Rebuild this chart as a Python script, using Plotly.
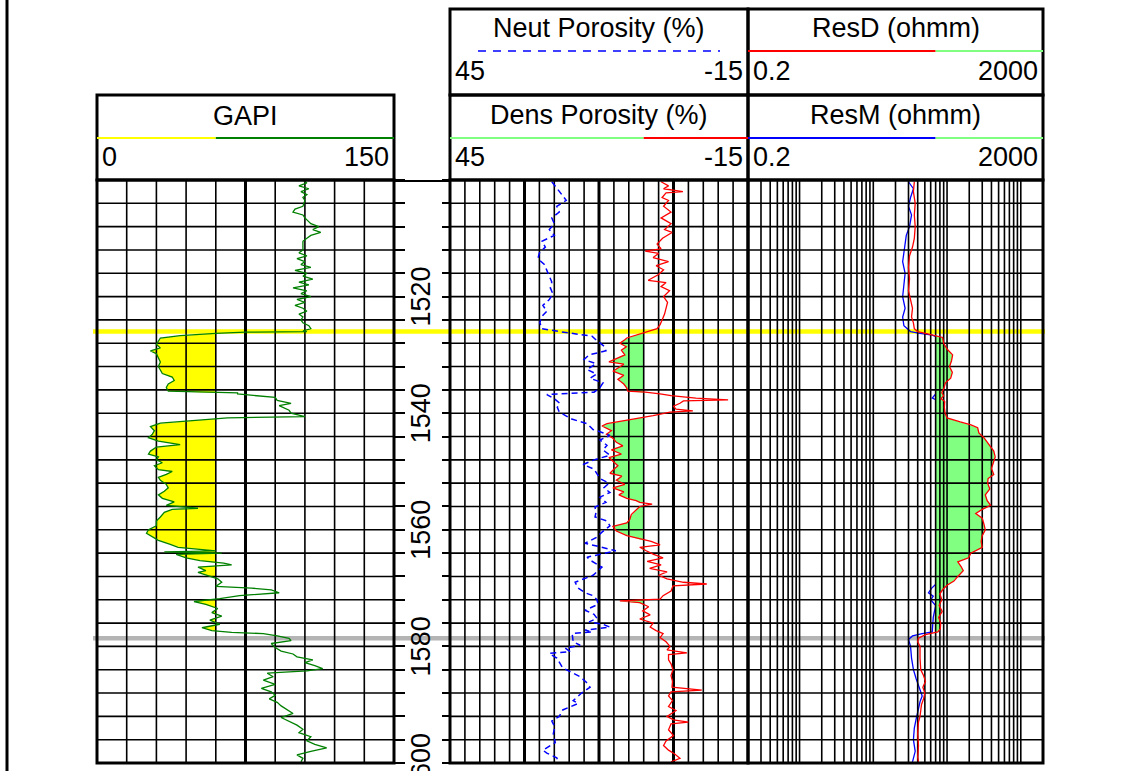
import numpy as np
import plotly.graph_objects as go

W, H = 1131, 771

# ---------------- depth window ----------------
DEPTH_TOP, DEPTH_BASE = 1500, 1600
DEPTH_STEP = 4
depth_labels = [1520, 1540, 1560, 1580, 1600]

# zone boundaries (top marker, base marker)
zone_top = 1526.0
zone_base = 1578.6

# ---------------- track scales ----------------
gr_range = [0, 150]
gr_grid_minor = [15, 30, 45, 60, 90, 105, 120, 135]
gr_grid_major = [75]
por_range = [45, -15]
por_grid_minor = [42, 39, 36, 33, 27, 24, 21, 18, 12, 9, 6, 3, -3, -6, -9, -12]
por_grid_major = [30, 15, 0]
res_range = [0.2, 2000]
res_grid = [m * 10.0 ** e for e in range(-1, 4) for m in range(1, 10)
            if 0.2 < m * 10.0 ** e < 2000]

gr_cutoff = 60
dphi_cutoff = 6
resd_cutoff = 70

# ---------------- curves: (depth, value) ----------------
gr_log = [
    (1500.0, 104), (1500.5, 106), (1501.0, 102), (1501.5, 107), (1502.0, 103), (1502.5, 106),
    (1503.0, 104), (1503.5, 105), (1504.5, 104), (1505.0, 100), (1505.5, 99), (1506.0, 104),
    (1506.5, 105), (1507.5, 108), (1508.0, 112), (1508.5, 109), (1509.0, 113), (1509.5, 108),
    (1510.0, 106), (1510.5, 104), (1511.5, 104), (1512.0, 104), (1512.5, 102), (1513.0, 106),
    (1513.5, 101), (1514.0, 105), (1514.5, 103), (1515.0, 108), (1515.5, 100), (1516.0, 106),
    (1516.5, 104), (1517.0, 109), (1517.5, 102), (1518.0, 107), (1518.5, 99), (1519.0, 106),
    (1519.5, 103), (1520.0, 108), (1520.5, 101), (1521.0, 105), (1521.5, 100), (1522.0, 104),
    (1522.5, 106), (1523.0, 102), (1523.5, 104), (1524.0, 103), (1524.5, 104), (1525.0, 107),
    (1525.5, 108), (1525.9, 104), (1526.0, 106), (1526.1, 75), (1526.3, 60), (1526.7, 42),
    (1527.1, 32), (1527.6, 31), (1528.2, 30), (1528.8, 32), (1529.3, 27), (1529.8, 30),
    (1530.5, 31), (1531.2, 32), (1532.0, 31), (1532.6, 32), (1533.2, 33), (1533.8, 38),
    (1534.4, 39), (1535.0, 36), (1535.6, 35), (1536.2, 36), (1536.5, 71), (1536.7, 71),
    (1537.0, 81), (1537.3, 90), (1537.8, 91), (1538.3, 98), (1538.7, 92), (1539.0, 94),
    (1539.5, 97), (1540.0, 98), (1540.6, 105), (1540.8, 66), (1541.2, 52), (1541.7, 32),
    (1542.3, 27), (1543.0, 29), (1543.6, 28), (1544.2, 26), (1544.8, 31), (1545.4, 42),
    (1545.8, 30), (1546.5, 27), (1547.0, 26), (1547.5, 31), (1548.0, 30), (1548.5, 33),
    (1549.0, 29), (1549.7, 31), (1550.0, 38), (1550.5, 35), (1551.0, 31), (1551.5, 32),
    (1552.2, 35), (1552.8, 36), (1553.4, 34), (1554.0, 31), (1554.6, 33), (1555.2, 39),
    (1555.8, 35), (1556.3, 51), (1556.5, 38), (1557.0, 34), (1557.8, 32), (1558.5, 30),
    (1559.3, 30), (1560.0, 26), (1560.6, 25), (1561.2, 28), (1561.8, 31), (1562.5, 37),
    (1563.0, 41), (1563.6, 60), (1563.8, 34), (1564.0, 63), (1564.2, 40), (1564.8, 45),
    (1565.3, 52), (1565.7, 64), (1566.0, 68), (1566.4, 51), (1567.0, 55), (1567.3, 51),
    (1567.8, 56), (1568.4, 61), (1569.0, 63), (1569.7, 60), (1570.0, 78), (1570.3, 88),
    (1570.8, 92), (1571.3, 72), (1571.8, 62), (1572.3, 49), (1572.8, 55), (1573.5, 61),
    (1574.2, 58), (1574.8, 63), (1575.5, 57), (1576.2, 62), (1576.8, 53), (1577.3, 58),
    (1577.6, 68), (1577.8, 84), (1578.2, 91), (1578.6, 97), (1579.0, 98), (1579.5, 88),
    (1580.2, 90), (1580.8, 93), (1581.3, 99), (1581.8, 101), (1582.3, 109), (1582.8, 105),
    (1583.3, 110), (1583.8, 114), (1584.2, 106), (1584.6, 86), (1585.2, 89), (1585.8, 84),
    (1586.5, 90), (1587.2, 83), (1587.8, 88), (1588.4, 90), (1589.0, 87), (1589.6, 91),
    (1590.2, 93), (1590.8, 96), (1591.5, 99), (1592.2, 93), (1592.8, 97), (1593.5, 101),
    (1594.2, 104), (1594.8, 102), (1595.5, 108), (1596.2, 106), (1596.8, 110), (1597.4, 116),
    (1598.0, 108), (1598.6, 101), (1599.2, 104), (1599.8, 103),
]

nphi_log = [
    (1500.3, 24.5), (1501.5, 23.5), (1502.5, 22.5), (1503.5, 21.6), (1504.5, 23.5), (1505.5, 23.0),
    (1506.5, 24.5), (1507.5, 24.0), (1508.5, 25.0), (1509.5, 24.0), (1510.5, 26.5), (1511.5, 25.8),
    (1512.5, 27.0), (1513.5, 27.3), (1514.5, 26.0), (1515.5, 25.5), (1516.5, 25.0), (1517.5, 24.5),
    (1518.5, 24.8), (1519.5, 24.3), (1520.5, 25.0), (1521.5, 26.3), (1522.5, 25.5), (1523.5, 26.6),
    (1524.5, 26.9), (1525.5, 26.5), (1526.0, 23.0), (1526.4, 19.5), (1526.8, 16.4), (1527.5, 15.5),
    (1528.5, 14.0), (1529.3, 13.6), (1530.0, 17.0), (1530.8, 18.0), (1531.5, 15.6), (1532.5, 17.4),
    (1533.3, 15.5), (1534.0, 16.8), (1534.8, 14.2), (1535.6, 14.8), (1536.4, 16.0), (1536.8, 25.5),
    (1537.5, 24.0), (1538.3, 22.9), (1539.0, 23.4), (1539.8, 23.0), (1541.0, 20.5), (1541.8, 17.4),
    (1542.8, 16.2), (1543.3, 14.4), (1543.8, 12.8), (1544.6, 14.8), (1545.5, 13.4), (1546.3, 14.2),
    (1547.2, 12.8), (1548.0, 16.0), (1548.8, 18.2), (1549.6, 16.0), (1550.4, 15.4), (1551.2, 14.8),
    (1552.0, 13.0), (1552.8, 14.0), (1553.6, 12.8), (1554.4, 14.8), (1555.3, 13.6), (1556.1, 15.8),
    (1557.0, 15.6), (1557.8, 15.8), (1558.5, 13.4), (1559.3, 12.8), (1560.4, 14.4), (1561.3, 15.5),
    (1562.3, 17.8), (1562.8, 15.4), (1563.3, 12.6), (1563.6, 11.6), (1564.7, 17.4), (1565.2, 16.8),
    (1566.4, 14.4), (1567.8, 16.2), (1569.0, 19.8), (1570.0, 19.2), (1570.8, 17.8), (1571.3, 16.2),
    (1572.0, 15.4), (1572.8, 15.2), (1573.8, 17.8), (1574.5, 16.0), (1575.2, 15.4), (1575.8, 17.0),
    (1576.2, 14.2), (1576.7, 12.8), (1577.2, 17.8), (1577.5, 16.4), (1577.8, 20.4), (1579.2, 20.2),
    (1579.8, 18.8), (1580.3, 21.8), (1580.9, 20.8), (1581.2, 25.0), (1582.0, 23.5), (1583.0, 22.8),
    (1583.7, 22.3), (1585.2, 18.8), (1586.2, 17.5), (1587.0, 16.8), (1588.0, 18.5), (1589.3, 20.2),
    (1589.8, 19.2), (1590.9, 22.3), (1592.0, 23.0), (1592.8, 24.5), (1593.8, 23.9), (1595.0, 24.2),
    (1596.5, 23.8), (1597.8, 26.3), (1598.3, 25.5), (1599.1, 23.5), (1599.8, 23.2),
]

dphi_log = [
    (1500.3, 2.5), (1501.0, 1.0), (1501.5, 2.0), (1502.0, -1.9), (1502.2, 1.5), (1503.0, 2.3),
    (1503.5, 1.0), (1504.5, 2.0), (1505.5, 0.5), (1506.5, 2.5), (1507.5, 0.5), (1508.5, 1.8),
    (1509.0, 0.3), (1510.0, 2.2), (1511.0, 3.3), (1511.8, 2.5), (1512.2, 5.7), (1512.6, 3.0),
    (1513.3, 4.1), (1514.0, 1.0), (1514.7, 3.5), (1515.4, 2.0), (1516.2, 3.0), (1517.2, 5.1),
    (1517.6, 1.5), (1518.3, 2.5), (1519.0, 0.8), (1520.0, 2.0), (1521.0, 1.2), (1522.0, 1.5),
    (1523.0, 1.8), (1524.0, 2.3), (1524.8, 2.7), (1525.5, 3.3), (1526.0, 5.3), (1526.5, 6.8),
    (1527.1, 9.4), (1527.4, 9.8), (1528.0, 10.8), (1528.6, 9.5), (1529.2, 10.5), (1530.0, 9.8),
    (1530.7, 11.5), (1531.2, 13.0), (1531.6, 10.0), (1532.2, 11.0), (1532.8, 12.2), (1533.5, 10.0),
    (1534.2, 11.2), (1535.0, 10.0), (1535.7, 9.4), (1536.2, 9.2), (1536.4, 5.7), (1536.7, 2.7),
    (1537.0, 0.5), (1537.4, -4.5), (1537.7, -11.0), (1537.9, -2.0), (1538.3, -1.3), (1538.8, 0.0),
    (1539.3, -0.5), (1539.6, -3.9), (1539.8, 0.7), (1540.4, 4.1), (1541.2, 9.4), (1541.8, 13.4),
    (1542.2, 14.4), (1543.0, 12.5), (1543.6, 13.5), (1544.3, 12.2), (1545.0, 11.5), (1545.6, 10.2),
    (1546.3, 12.5), (1547.0, 10.5), (1547.6, 13.0), (1548.3, 12.2), (1549.0, 11.2), (1549.6, 12.0),
    (1550.3, 12.8), (1550.8, 10.4), (1551.5, 11.5), (1552.2, 9.8), (1552.8, 12.2), (1553.5, 10.0),
    (1554.0, 11.0), (1554.6, 9.4), (1555.0, 7.5), (1555.3, 6.8), (1555.6, 4.3), (1556.0, 6.8),
    (1556.6, 7.5), (1557.4, 8.5), (1558.2, 8.8), (1558.8, 9.4), (1559.4, 12.2), (1560.2, 11.5),
    (1561.0, 9.4), (1561.6, 6.8), (1562.0, 4.5), (1562.6, 2.7), (1563.0, 6.8), (1563.6, 5.5),
    (1564.2, 4.0), (1564.8, 2.1), (1565.4, 5.3), (1566.0, 2.5), (1566.6, 4.8), (1567.2, 1.3),
    (1567.8, 3.0), (1568.4, 1.3), (1569.0, -2.0), (1569.3, -6.7), (1569.6, 0.1), (1570.5, 0.5),
    (1571.3, 2.1), (1571.9, 2.7), (1572.2, 10.8), (1572.5, 6.8), (1573.2, 5.0), (1573.9, 6.2),
    (1574.6, 4.7), (1575.3, 6.8), (1576.0, 4.1), (1576.7, 4.7), (1577.3, 3.5), (1577.8, 2.1),
    (1578.5, 2.7), (1579.2, 1.5), (1580.0, 0.7), (1580.6, 1.3), (1581.1, -2.7), (1581.4, 1.0),
    (1582.3, 1.0), (1583.0, 0.5), (1584.0, 0.1), (1585.0, 0.5), (1586.0, 0.2), (1587.0, 0.3),
    (1587.5, -5.7), (1587.8, 0.5), (1588.5, 1.0), (1589.3, 0.2), (1590.3, 1.0), (1591.0, -0.5),
    (1592.0, 1.3), (1592.6, 0.0), (1593.0, -3.0), (1593.3, 0.5), (1594.3, 1.0), (1595.3, 0.0),
    (1596.2, 1.5), (1597.0, 2.0), (1597.8, 1.0), (1598.5, -0.3), (1599.2, -1.3), (1599.8, 0.5),
]

resd_log = [
    (1500.3, 36), (1502.0, 35), (1504.0, 37), (1506.0, 36), (1508.0, 37), (1510.0, 36),
    (1511.5, 34), (1513.0, 31), (1515.0, 30), (1517.0, 31), (1519.0, 30), (1520.5, 32),
    (1522.0, 34), (1523.5, 33), (1524.5, 35), (1525.5, 36), (1526.0, 40), (1526.3, 51),
    (1526.6, 65), (1527.0, 87), (1528.0, 90), (1529.0, 100), (1530.0, 119), (1531.0, 115),
    (1532.0, 108), (1533.0, 118), (1534.0, 112), (1534.8, 95), (1535.7, 91), (1536.5, 85),
    (1537.0, 90), (1537.5, 83), (1538.0, 93), (1539.0, 92), (1540.0, 94), (1540.8, 100),
    (1541.5, 151), (1542.0, 211), (1542.5, 260), (1543.4, 270), (1544.2, 316), (1545.3, 371),
    (1546.5, 430), (1547.5, 450), (1548.5, 420), (1549.5, 400), (1550.5, 430), (1551.2, 360),
    (1552.0, 355), (1553.0, 380), (1554.0, 330), (1555.0, 350), (1555.8, 390), (1556.5, 300),
    (1557.2, 245), (1558.0, 300), (1559.0, 316), (1560.0, 330), (1561.0, 300), (1562.0, 290),
    (1563.0, 300), (1564.0, 210), (1564.8, 196), (1565.5, 140), (1566.3, 155), (1567.0, 166),
    (1568.0, 140), (1568.8, 124), (1569.5, 100), (1570.2, 88), (1571.0, 80), (1572.0, 85),
    (1573.0, 78), (1574.0, 86), (1575.0, 77), (1576.0, 82), (1577.0, 81), (1577.5, 75),
    (1578.0, 51), (1578.6, 41), (1579.2, 40), (1580.0, 43), (1582.0, 43), (1584.0, 44),
    (1585.0, 48), (1586.0, 51), (1587.0, 47), (1588.0, 50), (1589.0, 48), (1590.0, 45),
    (1591.0, 44), (1592.0, 43), (1593.0, 41), (1595.0, 40), (1597.0, 41), (1599.0, 40),
    (1599.8, 41),
]

resm_log = [
    (1500.3, 30), (1501.5, 35), (1503.0, 32), (1504.5, 30), (1506.0, 33), (1508.0, 31),
    (1509.5, 28), (1511.0, 27), (1512.5, 26), (1514.0, 25), (1516.0, 27), (1518.0, 26),
    (1520.0, 25), (1522.0, 27), (1523.5, 25), (1525.0, 26), (1525.6, 29), (1526.0, 32),
    (1526.3, 43), (1526.6, 63), (1527.0, 75), (1528.5, 80), (1530.0, 84), (1532.0, 80),
    (1534.0, 85), (1536.0, 78), (1537.0, 66), (1537.4, 63), (1537.8, 74), (1540.0, 82),
    (1543.0, 95), (1547.0, 110), (1552.0, 105), (1557.0, 100), (1562.0, 98), (1566.0, 90),
    (1569.0, 75), (1570.0, 62), (1570.8, 56), (1571.4, 65), (1572.0, 60), (1573.0, 70),
    (1575.0, 65), (1577.0, 63), (1577.5, 63), (1577.8, 46), (1578.2, 34), (1578.8, 30),
    (1580.0, 32), (1582.0, 33), (1584.0, 35), (1585.5, 38), (1587.0, 42), (1588.5, 46),
    (1589.5, 43), (1591.0, 40), (1592.5, 38), (1594.0, 36), (1596.0, 35), (1598.0, 37),
    (1599.8, 34),
]

# ---------------- page geometry (pixels) ----------------
GAPI_PX = (97, 394)
POR_PX = (450, 748)
RES_PX = (748, 1043)
TRACK_PY = (180, 763)
HEAD_TOP, HEAD_MID = 9, 95
FONT = "Liberation Sans, Arial, sans-serif"
FS = 27
LIGHT_GREEN = "#80FF80"


def px(x):
    return x / W


def py(y):
    return 1 - y / H


def unzip(pairs):
    d, v = zip(*pairs)
    return np.array(d, float), np.array(v, float)


def zone_fill(depth, values, cutoff, keep, log=False):
    """Edge and base of the shaded area between a curve and its cutoff inside the zone."""
    v = np.log10(values) if log else values
    c = np.log10(cutoff) if log else cutoff
    inside = depth[(depth > zone_top) & (depth < zone_base)]
    d = np.union1d(np.arange(zone_top, zone_base, 0.02), inside)
    d = np.append(d, zone_base)
    vi = np.interp(d, depth, v)
    edge = np.minimum(vi, c) if keep == "low" else np.maximum(vi, c)
    base = np.full_like(d, c)
    if log:
        edge, base = 10 ** edge, 10 ** base
    return d, base, edge


def grid_trace(xaxis, xvals, xlim, width, with_rows):
    xs, ys = [], []
    for v in xvals:
        xs += [v, v, None]
        ys += [DEPTH_TOP, DEPTH_BASE, None]
    if with_rows:
        for d in range(DEPTH_TOP + DEPTH_STEP, DEPTH_BASE, DEPTH_STEP):
            xs += [xlim[0], xlim[1], None]
            ys += [d, d, None]
    return go.Scatter(x=xs, y=ys, xaxis=xaxis, yaxis="y", mode="lines",
                      line=dict(color="black", width=width),
                      hoverinfo="skip", showlegend=False)


def fill_pair(xaxis, d, base, edge, color):
    return [
        go.Scatter(x=base, y=d, xaxis=xaxis, yaxis="y", mode="lines",
                   line=dict(width=0, color=color), hoverinfo="skip", showlegend=False),
        go.Scatter(x=edge, y=d, xaxis=xaxis, yaxis="y", mode="lines", fill="tonextx",
                   fillcolor=color, line=dict(width=0, color=color),
                   hoverinfo="skip", showlegend=False),
    ]


gr_d, gr_v = unzip(gr_log)
nphi_d, nphi_v = unzip(nphi_log)
dphi_d, dphi_v = unzip(dphi_log)
resd_d, resd_v = unzip(resd_log)
resm_d, resm_v = unzip(resm_log)

traces = []

# ---- GAPI track ----
d, b, e = zone_fill(gr_d, gr_v, gr_cutoff, "low")
traces += fill_pair("x", d, b, e, "#FFFF00")
traces.append(grid_trace("x", gr_grid_minor, gr_range, 1.6, True))
traces.append(grid_trace("x", gr_grid_major, gr_range, 3, False))
traces.append(go.Scatter(x=gr_v, y=gr_d, xaxis="x", yaxis="y", mode="lines",
                         line=dict(color="#008000", width=1.3), name="GAPI", showlegend=False))

# ---- porosity track ----
d, b, e = zone_fill(dphi_d, dphi_v, dphi_cutoff, "high")
traces += fill_pair("x2", d, b, e, LIGHT_GREEN)
traces.append(grid_trace("x2", por_grid_minor, por_range, 1.6, True))
traces.append(grid_trace("x2", por_grid_major, por_range, 3, False))
traces.append(go.Scatter(x=dphi_v, y=dphi_d, xaxis="x2", yaxis="y", mode="lines",
                         line=dict(color="#FF0000", width=1.3), name="Dens Porosity", showlegend=False))
traces.append(go.Scatter(x=nphi_v, y=nphi_d, xaxis="x2", yaxis="y", mode="lines",
                         line=dict(color="#0000FF", width=1.5, dash="6px,4px"),
                         name="Neut Porosity", showlegend=False))

# ---- resistivity track ----
traces.append(go.Scatter(x=resm_v, y=resm_d, xaxis="x3", yaxis="y", mode="lines",
                         line=dict(color="#0000FF", width=1.3), name="ResM", showlegend=False))
d, b, e = zone_fill(resd_d, resd_v, resd_cutoff, "high", log=True)
traces += fill_pair("x3", d, b, e, LIGHT_GREEN)
traces.append(grid_trace("x3", res_grid, res_range, 1.6, True))
traces.append(go.Scatter(x=resd_v, y=resd_d, xaxis="x3", yaxis="y", mode="lines",
                         line=dict(color="#FF0000", width=1.3), name="ResD", showlegend=False))

# carrier for the right-hand depth tick axis
traces.append(go.Scatter(x=[gr_v[0]], y=[gr_d[0]], xaxis="x", yaxis="y2", mode="markers",
                         marker=dict(opacity=0), hoverinfo="skip", showlegend=False))

fig = go.Figure(traces)

shapes = []
# zone markers
shapes.append(dict(type="line", xref="paper", yref="y", x0=px(93), x1=px(1045),
                   y0=zone_top, y1=zone_top, line=dict(color="#FFFF00", width=4.5), layer="below"))
shapes.append(dict(type="line", xref="paper", yref="y", x0=px(93), x1=px(1045),
                   y0=zone_base, y1=zone_base, line=dict(color="#B4B4B4", width=4.5), layer="below"))

# track frames
for x0, x1 in (GAPI_PX, POR_PX, RES_PX):
    shapes.append(dict(type="rect", xref="paper", yref="paper", x0=px(x0), x1=px(x1),
                       y0=py(TRACK_PY[1]), y1=py(TRACK_PY[0]),
                       line=dict(color="black", width=3), layer="above"))
# header boxes
shapes.append(dict(type="rect", xref="paper", yref="paper", x0=px(GAPI_PX[0]), x1=px(GAPI_PX[1]),
                   y0=py(TRACK_PY[0]), y1=py(HEAD_MID), line=dict(color="black", width=3)))
for x0, x1 in (POR_PX, RES_PX):
    for top, bot in ((HEAD_TOP, HEAD_MID), (HEAD_MID, TRACK_PY[0])):
        shapes.append(dict(type="rect", xref="paper", yref="paper", x0=px(x0), x1=px(x1),
                           y0=py(bot), y1=py(top), line=dict(color="black", width=3)))
# depth track top edge and page edge
shapes.append(dict(type="line", xref="paper", yref="paper", x0=px(GAPI_PX[1]), x1=px(POR_PX[0]),
                   y0=py(181), y1=py(181), line=dict(color="black", width=2)))
shapes.append(dict(type="line", xref="paper", yref="paper", x0=px(7), x1=px(7),
                   y0=0, y1=1, line=dict(color="black", width=3)))


# header legend strokes (split at each cutoff)
def hline(xref, a, b, ypix, color, dash=None):
    ln = dict(color=color, width=2)
    if dash:
        ln["dash"] = dash
    return dict(type="line", xref=xref, yref="paper", x0=a, x1=b,
                y0=py(ypix), y1=py(ypix), line=ln)


shapes += [
    hline("x", gr_range[0], gr_cutoff, 138, "#FFFF00"),
    hline("x", gr_cutoff, gr_range[1], 138, "#008000"),
    hline("x2", por_range[0], dphi_cutoff, 138, LIGHT_GREEN),
    hline("x2", dphi_cutoff, por_range[1], 138, "#FF0000"),
    hline("x3", res_range[0], resd_cutoff, 51, "#FF0000"),
    hline("x3", resd_cutoff, res_range[1], 51, LIGHT_GREEN),
    hline("x3", res_range[0], resd_cutoff, 138, "#0000FF"),
    hline("x3", resd_cutoff, res_range[1], 138, LIGHT_GREEN),
]
shapes.append(dict(type="line", xref="paper", yref="paper", x0=px(478), x1=px(720),
                   y0=py(51), y1=py(51), line=dict(color="#0000FF", width=1.5, dash="8px,7px")))

ann = []


def text(t, xp, yp, anchor="center"):
    ann.append(dict(text=t, x=px(xp), y=py(yp), xref="paper", yref="paper",
                    xanchor=anchor, yanchor="middle", showarrow=False,
                    font=dict(family=FONT, size=FS, color="black")))


def mid(r):
    return (r[0] + r[1]) / 2


text("GAPI", mid(GAPI_PX), 116)
text(str(gr_range[0]), 100, 157, "left")
text(str(gr_range[1]), 391, 157, "right")
text("Neut Porosity (%)", mid(POR_PX), 28)
text("Dens Porosity (%)", mid(POR_PX), 115)
text("ResD (ohmm)", mid(RES_PX), 28)
text("ResM (ohmm)", mid(RES_PX), 115)
for yrow in (71, 157):
    text(str(por_range[0]), 453, yrow, "left")
    text(str(por_range[1]), 745, yrow, "right")
    text(str(res_range[0]), 751, yrow, "left")
    text(str(res_range[1]), 1040, yrow, "right")

for dl in depth_labels:
    ann.append(dict(text=str(dl), x=px(421), y=dl, xref="paper", yref="y",
                    xanchor="center", yanchor="middle", textangle=-90, showarrow=False,
                    font=dict(family=FONT, size=FS, color="black")))

tick_common = dict(range=[DEPTH_BASE, DEPTH_TOP], autorange=False, tickmode="linear",
                   tick0=DEPTH_TOP, dtick=DEPTH_STEP, ticks="outside", tickwidth=2,
                   tickcolor="black", showticklabels=False, showgrid=False,
                   zeroline=False, showline=False, anchor="free",
                   domain=[py(TRACK_PY[1]), py(TRACK_PY[0])])

fig.update_layout(
    width=W, height=H, autosize=False,
    margin=dict(l=0, r=0, t=0, b=0, pad=0),
    paper_bgcolor="white", plot_bgcolor="rgba(0,0,0,0)",
    showlegend=False,
    font=dict(family=FONT, size=FS, color="black"),
    xaxis=dict(domain=[px(GAPI_PX[0]), px(GAPI_PX[1])], range=gr_range, visible=False, anchor="y"),
    xaxis2=dict(domain=[px(POR_PX[0]), px(POR_PX[1])], range=por_range, visible=False, anchor="y"),
    xaxis3=dict(domain=[px(RES_PX[0]), px(RES_PX[1])], type="log",
                range=[np.log10(res_range[0]), np.log10(res_range[1])], visible=False, anchor="y"),
    yaxis=dict(position=px(GAPI_PX[1]), side="right", ticklen=10, **tick_common),
    yaxis2=dict(position=px(POR_PX[0]), side="left", ticklen=8, overlaying="y", **tick_common),
    shapes=shapes,
    annotations=ann,
)

fig.write_html("out.html")
